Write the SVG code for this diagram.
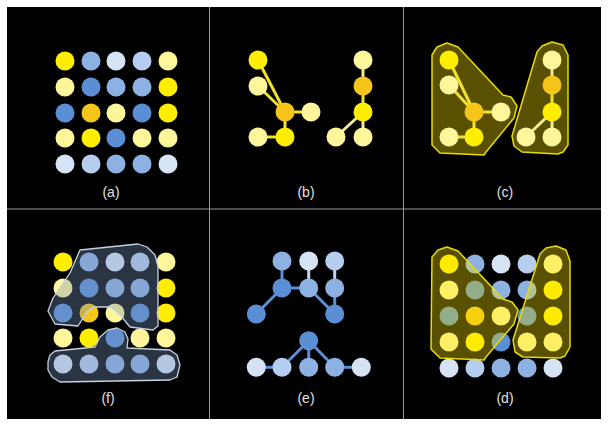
<svg xmlns="http://www.w3.org/2000/svg" width="608" height="425" viewBox="0 0 608 425">
<style>
circle{r:9.5}
.y{fill:#ffee00}.py{fill:#fff59a}.o{fill:#f6c519}.mb{fill:#5a8fd6}.ml{fill:#8cb1e2}.lb{fill:#b5cdee}.vl{fill:#d6e3f5}
.div{stroke:#9a9a9a;stroke-width:1;fill:none}
.ey{stroke:#f2e22e;stroke-width:3;fill:none}
.ep{stroke:#f3eb9a;stroke-width:3;fill:none}
.eb{stroke:#5a8fd6;stroke-width:3;fill:none}
.el{stroke:#c2d6f0;stroke-width:3;fill:none}
.hy{fill:rgba(255,230,0,0.35);stroke:#e8dc00;stroke-width:1.5;stroke-linejoin:round}
.hb{fill:rgba(120,150,190,0.35);stroke:#c3d1e2;stroke-width:1.3;stroke-linejoin:round}
.lab{font-family:"Liberation Sans",Arial,sans-serif;font-size:14px;fill:#e0e0e0;text-anchor:middle}
</style>
<rect x="0" y="0" width="608" height="425" fill="#ffffff"/>
<rect x="7" y="7" width="594" height="412" fill="#000000"/>
<g id="dividers">
<line class="div" x1="209.5" y1="7" x2="209.5" y2="419"/>
<line class="div" x1="403.5" y1="7" x2="403.5" y2="419"/>
<line class="div" x1="7" y1="209" x2="601" y2="209"/>
</g>
<!-- panel a -->
<g id="panel-a">
<g id="a11"><circle class="y" cx="65" cy="61" r="9.5"/></g>
<g id="a12"><circle class="ml" cx="91" cy="61" r="9.5"/></g>
<g id="a13"><circle class="vl" cx="116" cy="61" r="9.5"/></g>
<g id="a14"><circle class="lb" cx="142" cy="61" r="9.5"/></g>
<g id="a15"><circle class="py" cx="168" cy="61" r="9.5"/></g>
<g id="a21"><circle class="py" cx="65" cy="87" r="9.5"/></g>
<g id="a22"><circle class="mb" cx="91" cy="87" r="9.5"/></g>
<g id="a23"><circle class="ml" cx="116" cy="87" r="9.5"/></g>
<g id="a24"><circle class="ml" cx="142" cy="87" r="9.5"/></g>
<g id="a25"><circle class="y" cx="168" cy="87" r="9.5"/></g>
<g id="a31"><circle class="mb" cx="65" cy="113" r="9.5"/></g>
<g id="a32"><circle class="o" cx="91" cy="113" r="9.5"/></g>
<g id="a33"><circle class="py" cx="116" cy="113" r="9.5"/></g>
<g id="a34"><circle class="mb" cx="142" cy="113" r="9.5"/></g>
<g id="a35"><circle class="y" cx="168" cy="113" r="9.5"/></g>
<g id="a41"><circle class="py" cx="65" cy="138" r="9.5"/></g>
<g id="a42"><circle class="y" cx="91" cy="138" r="9.5"/></g>
<g id="a43"><circle class="mb" cx="116" cy="138" r="9.5"/></g>
<g id="a44"><circle class="py" cx="142" cy="138" r="9.5"/></g>
<g id="a45"><circle class="py" cx="168" cy="138" r="9.5"/></g>
<g id="a51"><circle class="vl" cx="65" cy="164" r="9.5"/></g>
<g id="a52"><circle class="lb" cx="91" cy="164" r="9.5"/></g>
<g id="a53"><circle class="ml" cx="116" cy="164" r="9.5"/></g>
<g id="a54"><circle class="ml" cx="142" cy="164" r="9.5"/></g>
<g id="a55"><circle class="vl" cx="168" cy="164" r="9.5"/></g>
<text class="lab" x="111" y="197">(a)</text>
</g>
<!-- panel b -->
<g id="connectors-b">
<line class="ey" x1="258" y1="60" x2="285" y2="112"/>
<line class="ey" x1="258" y1="86" x2="285" y2="112"/>
<line class="ey" x1="285" y1="112" x2="311" y2="112"/>
<line class="ey" x1="285" y1="112" x2="285" y2="137"/>
<line class="ey" x1="258" y1="137" x2="285" y2="137"/>
<line class="ep" x1="363" y1="60" x2="363" y2="86"/>
<line class="ey" x1="363" y1="86" x2="363" y2="112"/>
<line class="ep" x1="363" y1="112" x2="363" y2="137"/>
<line class="ep" x1="363" y1="112" x2="336" y2="137"/>
</g>
<g id="panel-b">
<g id="b1"><circle class="y" cx="258" cy="60" r="9.5"/></g>
<g id="b2"><circle class="py" cx="258" cy="86" r="9.5"/></g>
<g id="b3"><circle class="o" cx="285" cy="112" r="9.5"/></g>
<g id="b4"><circle class="py" cx="311" cy="112" r="9.5"/></g>
<g id="b5"><circle class="py" cx="258" cy="137" r="9.5"/></g>
<g id="b6"><circle class="y" cx="285" cy="137" r="9.5"/></g>
<g id="b7"><circle class="py" cx="363" cy="60" r="9.5"/></g>
<g id="b8"><circle class="o" cx="363" cy="86" r="9.5"/></g>
<g id="b9"><circle class="y" cx="363" cy="112" r="9.5"/></g>
<g id="b10"><circle class="py" cx="336" cy="137" r="9.5"/></g>
<g id="b11"><circle class="py" cx="363" cy="137" r="9.5"/></g>
<text class="lab" x="306" y="197">(b)</text>
</g>
<!-- panel c -->
<g id="hulls-c">
<polygon class="hy" points="432,55 437,47 447,43 458,47 503,95 511,97 517,106 514,118 486,152 484,155 440,153 432,145"/>
<polygon class="hy" points="537,52 542,46 552,42 563,45 568,55 568,145 563,152 558,154 522,152 514,146 512,136"/>
</g>
<g id="connectors-c">
<line class="ey" x1="449" y1="60" x2="474" y2="112"/>
<line class="ey" x1="449" y1="85" x2="474" y2="112"/>
<line class="ey" x1="474" y1="112" x2="501" y2="112"/>
<line class="ey" x1="474" y1="112" x2="474" y2="137"/>
<line class="ey" x1="449" y1="137" x2="474" y2="137"/>
<line class="ep" x1="552" y1="60" x2="552" y2="85"/>
<line class="ey" x1="552" y1="85" x2="552" y2="112"/>
<line class="ep" x1="552" y1="112" x2="552" y2="137"/>
<line class="ep" x1="552" y1="112" x2="526" y2="137"/>
</g>
<g id="panel-c">
<g id="c1"><circle class="y" cx="449" cy="60" r="9.5"/></g>
<g id="c2"><circle class="py" cx="449" cy="85" r="9.5"/></g>
<g id="c3"><circle class="o" cx="474" cy="112" r="9.5"/></g>
<g id="c4"><circle class="py" cx="501" cy="112" r="9.5"/></g>
<g id="c5"><circle class="py" cx="449" cy="137" r="9.5"/></g>
<g id="c6"><circle class="y" cx="474" cy="137" r="9.5"/></g>
<g id="c7"><circle class="py" cx="552" cy="60" r="9.5"/></g>
<g id="c8"><circle class="o" cx="552" cy="85" r="9.5"/></g>
<g id="c9"><circle class="y" cx="552" cy="112" r="9.5"/></g>
<g id="c10"><circle class="py" cx="526" cy="137" r="9.5"/></g>
<g id="c11"><circle class="py" cx="552" cy="137" r="9.5"/></g>
<text class="lab" x="505" y="197">(c)</text>
</g>
<!-- panel f -->
<g id="panel-f">
<g id="f11"><circle class="y" cx="63" cy="262" r="9.5"/></g>
<g id="f12"><circle class="ml" cx="89" cy="262" r="9.5"/></g>
<g id="f13"><circle class="vl" cx="115" cy="262" r="9.5"/></g>
<g id="f14"><circle class="lb" cx="140" cy="262" r="9.5"/></g>
<g id="f15"><circle class="py" cx="166" cy="262" r="9.5"/></g>
<g id="f21"><circle class="py" cx="63" cy="288" r="9.5"/></g>
<g id="f22"><circle class="mb" cx="89" cy="288" r="9.5"/></g>
<g id="f23"><circle class="ml" cx="115" cy="288" r="9.5"/></g>
<g id="f24"><circle class="ml" cx="140" cy="288" r="9.5"/></g>
<g id="f25"><circle class="y" cx="166" cy="288" r="9.5"/></g>
<g id="f31"><circle class="mb" cx="63" cy="313" r="9.5"/></g>
<g id="f32"><circle class="o" cx="89" cy="313" r="9.5"/></g>
<g id="f33"><circle class="py" cx="115" cy="313" r="9.5"/></g>
<g id="f34"><circle class="mb" cx="140" cy="313" r="9.5"/></g>
<g id="f35"><circle class="y" cx="166" cy="313" r="9.5"/></g>
<g id="f41"><circle class="py" cx="63" cy="338" r="9.5"/></g>
<g id="f42"><circle class="y" cx="89" cy="338" r="9.5"/></g>
<g id="f43"><circle class="mb" cx="115" cy="338" r="9.5"/></g>
<g id="f44"><circle class="py" cx="140" cy="338" r="9.5"/></g>
<g id="f45"><circle class="py" cx="166" cy="338" r="9.5"/></g>
<g id="f51"><circle class="vl" cx="63" cy="364" r="9.5"/></g>
<g id="f52"><circle class="lb" cx="89" cy="364" r="9.5"/></g>
<g id="f53"><circle class="ml" cx="115" cy="364" r="9.5"/></g>
<g id="f54"><circle class="ml" cx="140" cy="364" r="9.5"/></g>
<g id="f55"><circle class="vl" cx="166" cy="364" r="9.5"/></g>
<g id="hulls-f">
<polygon class="hb" points="80,250 138,244 147,247 155,255 158,266 158,326 153,330 130,327 121,316 111,307 94,307 87,312 78,326 55,324 48,311 53,298 70,273"/>
<polygon class="hb" points="48,362 50,355 55,351 95,347 100,337 108,330 117,328 125,332 128,339 127,348 170,350 177,355 180,365 177,377 170,380 60,382 52,377 48,370"/>
</g>
<text class="lab" x="108" y="403">(f)</text>
</g>
<!-- panel e -->
<g id="connectors-e">
<line class="eb" x1="282" y1="261" x2="282" y2="288"/>
<line class="el" x1="308.7" y1="261" x2="308.7" y2="288"/>
<line class="el" x1="334.7" y1="261" x2="334.7" y2="288"/>
<line class="eb" x1="282" y1="288" x2="308.7" y2="288"/>
<line class="eb" x1="282" y1="288" x2="256.3" y2="314"/>
<line class="eb" x1="308.7" y1="288" x2="334.7" y2="314"/>
<line class="eb" x1="334.7" y1="288" x2="334.7" y2="314"/>
<line class="eb" x1="308.7" y1="340.7" x2="282" y2="367.3"/>
<line class="eb" x1="308.7" y1="340.7" x2="308.7" y2="367.3"/>
<line class="eb" x1="308.7" y1="340.7" x2="334.7" y2="367.3"/>
<line class="eb" x1="256.3" y1="367.3" x2="282" y2="367.3"/>
<line class="eb" x1="334.7" y1="367.3" x2="361.3" y2="367.3"/>
</g>
<g id="panel-e">
<g id="e1"><circle class="ml" cx="282" cy="261" r="9.5"/></g>
<g id="e2"><circle class="vl" cx="308.7" cy="261" r="9.5"/></g>
<g id="e3"><circle class="lb" cx="334.7" cy="261" r="9.5"/></g>
<g id="e4"><circle class="mb" cx="282" cy="288" r="9.5"/></g>
<g id="e5"><circle class="ml" cx="308.7" cy="288" r="9.5"/></g>
<g id="e6"><circle class="ml" cx="334.7" cy="288" r="9.5"/></g>
<g id="e7"><circle class="mb" cx="256.3" cy="314" r="9.5"/></g>
<g id="e8"><circle class="mb" cx="334.7" cy="314" r="9.5"/></g>
<g id="e9"><circle class="mb" cx="308.7" cy="340.7" r="9.5"/></g>
<g id="e10"><circle class="vl" cx="256.3" cy="367.3" r="9.5"/></g>
<g id="e11"><circle class="lb" cx="282" cy="367.3" r="9.5"/></g>
<g id="e12"><circle class="ml" cx="308.7" cy="367.3" r="9.5"/></g>
<g id="e13"><circle class="ml" cx="334.7" cy="367.3" r="9.5"/></g>
<g id="e14"><circle class="vl" cx="361.3" cy="367.3" r="9.5"/></g>
<text class="lab" x="306" y="403">(e)</text>
</g>
<!-- panel d -->
<g id="panel-d">
<g id="d11"><circle class="y" cx="449" cy="264" r="9.5"/></g>
<g id="d12"><circle class="ml" cx="475" cy="264" r="9.5"/></g>
<g id="d13"><circle class="vl" cx="501" cy="264" r="9.5"/></g>
<g id="d14"><circle class="lb" cx="527" cy="264" r="9.5"/></g>
<g id="d15"><circle class="py" cx="553" cy="264" r="9.5"/></g>
<g id="d21"><circle class="py" cx="449" cy="290" r="9.5"/></g>
<g id="d22"><circle class="mb" cx="475" cy="290" r="9.5"/></g>
<g id="d23"><circle class="ml" cx="501" cy="290" r="9.5"/></g>
<g id="d24"><circle class="ml" cx="527" cy="290" r="9.5"/></g>
<g id="d25"><circle class="y" cx="553" cy="290" r="9.5"/></g>
<g id="d31"><circle class="mb" cx="449" cy="316" r="9.5"/></g>
<g id="d32"><circle class="o" cx="475" cy="316" r="9.5"/></g>
<g id="d33"><circle class="py" cx="501" cy="316" r="9.5"/></g>
<g id="d34"><circle class="mb" cx="527" cy="316" r="9.5"/></g>
<g id="d35"><circle class="y" cx="553" cy="316" r="9.5"/></g>
<g id="d41"><circle class="py" cx="449" cy="342" r="9.5"/></g>
<g id="d42"><circle class="y" cx="475" cy="342" r="9.5"/></g>
<g id="d43"><circle class="mb" cx="501" cy="342" r="9.5"/></g>
<g id="d44"><circle class="py" cx="527" cy="342" r="9.5"/></g>
<g id="d45"><circle class="py" cx="553" cy="342" r="9.5"/></g>
<g id="d51"><circle class="vl" cx="449" cy="368" r="9.5"/></g>
<g id="d52"><circle class="lb" cx="475" cy="368" r="9.5"/></g>
<g id="d53"><circle class="ml" cx="501" cy="368" r="9.5"/></g>
<g id="d54"><circle class="ml" cx="527" cy="368" r="9.5"/></g>
<g id="d55"><circle class="vl" cx="553" cy="368" r="9.5"/></g>
<g id="hulls-d">
<polygon class="hy" points="432,257 438,250 447,247 458,251 503,299 512,302 518,310 514,324 486,357 484,360 440,358 431,349"/>
<polygon class="hy" points="540,254 546,248 556,246 566,250 570,261 570,347 565,356 560,358 523,357 515,352 513,340"/>
</g>
<text class="lab" x="505" y="403">(d)</text>
</g>
</svg>
